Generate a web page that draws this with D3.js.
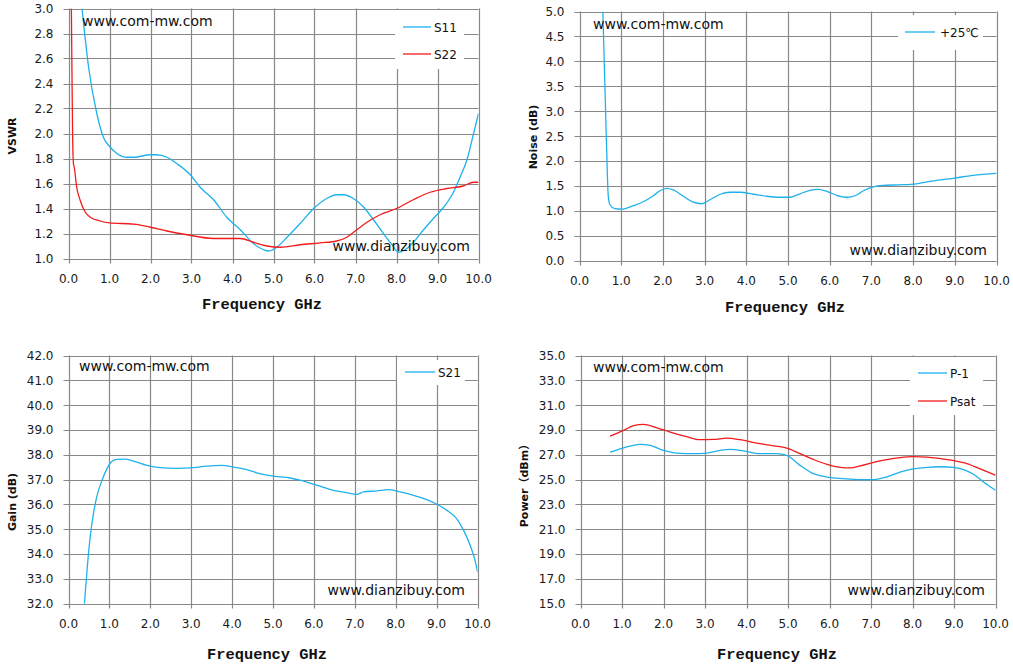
<!DOCTYPE html>
<html>
<head>
<meta charset="utf-8">
<script src="https://cdn.jsdelivr.net/npm/d3@7"></script>
<style>
  html, body { margin: 0; padding: 0; background: #fff; }
  svg { display: block; }
</style>
</head>
<body>
<svg id="chart" width="1013" height="667"></svg>
<script>
// ---------- DATA ----------
const xTicks = [0,1,2,3,4,5,6,7,8,9,10];

const vswrTicks = [1.0,1.2,1.4,1.6,1.8,2.0,2.2,2.4,2.6,2.8,3.0];
const s11 = [[0.33,3.0],[0.49,2.53],[0.69,2.16],[0.85,1.97],[1.02,1.89],[1.18,1.84],[1.42,1.81],[1.59,1.81],[2.0,1.83],[2.15,1.83],[2.4,1.81],[2.64,1.76],[2.97,1.67],[3.21,1.57],[3.54,1.47],[3.86,1.33],[4.19,1.23],[4.51,1.12],[4.76,1.07],[4.88,1.06],[5.08,1.09],[5.33,1.17],[5.65,1.28],[5.98,1.40],[6.3,1.48],[6.54,1.51],[6.71,1.51],[6.95,1.48],[7.2,1.41],[7.44,1.31],[7.68,1.20],[7.89,1.11],[8.05,1.05],[8.21,1.07],[8.41,1.13],[8.66,1.23],[8.9,1.32],[9.15,1.41],[9.39,1.53],[9.55,1.65],[9.72,1.79],[9.88,2.0],[10.0,2.16]];
const s22 = [[0.07,3.0],[0.09,2.3],[0.10,2.0],[0.12,1.76],[0.14,1.73],[0.2,1.57],[0.28,1.47],[0.41,1.37],[0.53,1.33],[0.77,1.30],[1.0,1.285],[1.59,1.275],[2.0,1.25],[2.4,1.22],[2.89,1.19],[3.54,1.16],[4.19,1.16],[4.51,1.13],[4.84,1.10],[5.17,1.09],[5.65,1.11],[6.14,1.125],[6.54,1.14],[6.79,1.17],[7.03,1.23],[7.28,1.29],[7.6,1.35],[8.0,1.40],[8.41,1.47],[8.82,1.53],[9.23,1.56],[9.63,1.58],[9.88,1.61],[10.0,1.61]];

const noiseTicks = [0.0,0.5,1.0,1.5,2.0,2.5,3.0,3.5,4.0,4.5,5.0];
const noise25 = [[0.56,5.0],[0.64,2.56],[0.69,1.29],[0.73,1.12],[0.85,1.04],[1.01,1.03],[1.29,1.10],[1.53,1.18],[1.77,1.30],[1.93,1.40],[2.09,1.45],[2.25,1.42],[2.49,1.29],[2.73,1.17],[2.93,1.14],[3.13,1.22],[3.37,1.33],[3.61,1.37],[3.85,1.37],[4.17,1.33],[4.49,1.29],[4.81,1.27],[5.05,1.27],[5.29,1.34],[5.53,1.41],[5.73,1.43],[5.93,1.39],[6.17,1.31],[6.41,1.27],[6.61,1.30],[6.81,1.40],[7.04,1.48],[7.28,1.51],[7.68,1.52],[8.08,1.54],[8.48,1.60],[8.96,1.65],[9.44,1.71],[10.0,1.75]];

const gainTicks = [32,33,34,35,36,37,38,39,40,41,42];
const s21 = [[0.39,32.0],[0.46,33.48],[0.53,34.68],[0.61,35.62],[0.69,36.3],[0.82,36.97],[0.94,37.44],[1.06,37.73],[1.18,37.81],[1.38,37.82],[1.59,37.74],[1.92,37.57],[2.24,37.48],[2.65,37.45],[3.06,37.48],[3.38,37.54],[3.75,37.57],[4.03,37.5],[4.36,37.4],[4.6,37.27],[5.01,37.14],[5.42,37.06],[5.66,36.97],[6.07,36.77],[6.48,36.56],[6.8,36.47],[7.05,36.4],[7.21,36.5],[7.54,36.54],[7.82,36.59],[8.11,36.5],[8.44,36.36],[8.76,36.19],[9.01,36.0],[9.25,35.76],[9.49,35.42],[9.66,34.95],[9.82,34.35],[9.94,33.74],[10.0,33.28]];

const powerTicks = [15,17,19,21,23,25,27,29,31,33,35];
const p1 = [[0.71,27.21],[1.04,27.56],[1.44,27.83],[1.68,27.75],[2.0,27.35],[2.32,27.13],[2.72,27.08],[3.04,27.13],[3.37,27.35],[3.61,27.43],[3.93,27.30],[4.33,27.08],[4.73,27.08],[4.97,26.95],[5.29,26.14],[5.61,25.47],[5.94,25.2],[6.34,25.07],[6.74,24.99],[7.06,24.99],[7.38,25.2],[7.7,25.6],[8.02,25.85],[8.35,25.98],[8.67,26.03],[8.99,25.98],[9.23,25.79],[9.47,25.42],[9.71,24.8],[10.0,24.13]];
const psat = [[0.71,28.5],[1.04,28.96],[1.28,29.34],[1.52,29.44],[1.84,29.17],[2.16,28.83],[2.56,28.45],[2.88,28.21],[3.2,28.23],[3.53,28.34],[3.85,28.21],[4.25,27.94],[4.65,27.72],[4.97,27.54],[5.29,27.08],[5.61,26.62],[5.94,26.22],[6.26,25.98],[6.5,25.93],[6.74,26.09],[7.06,26.38],[7.38,26.6],[7.7,26.76],[8.02,26.84],[8.35,26.81],[8.67,26.68],[8.99,26.52],[9.31,26.28],[9.63,25.85],[10.0,25.34]];

const xTitle = "Frequency GHz";
const siteTop = "www.com-mw.com";
const siteBottom = "www.dianzibuy.com";

// ---------- STYLE ----------
const BLUE = "#1eb1ec", RED = "#f21b1b", GRID = "#888888";

const panels = [
  { x0:68.5, x1:478.5, yTop:8.5, yBot:258.5, ticks:vswrTicks, yTitle:"VSWR", yTitleX:12, yTitleC:136,
    series:[{name:"S11", data:s11, color:BLUE},{name:"S22", data:s22, color:RED}],
    legend:{x:395, y:10, w:69, h:59, lx0:403, lx1:431, tx:434, ys:[27,54]},
    wmTop:{x:82, y:26}, wmBot:{x:470, y:251}, xTitleX:262, xTitleY:309 },
  { x0:579.5, x1:996.5, yTop:11.5, yBot:260.5, ticks:noiseTicks, yTitle:"Noise (dB)", yTitleX:533, yTitleC:137,
    series:[{name:"+25\u2103", data:noise25, color:BLUE}],
    legend:{x:898, y:15, w:85, h:35, lx0:905, lx1:935, tx:940, ys:[32]},
    wmTop:{x:593, y:29}, wmBot:{x:987, y:255}, xTitleX:785, xTitleY:312 },
  { x0:68.5, x1:477.5, yTop:355.5, yBot:603.5, ticks:gainTicks, yTitle:"Gain (dB)", yTitleX:12, yTitleC:502,
    series:[{name:"S21", data:s21, color:BLUE}],
    legend:{x:397, y:360, w:68, h:25, lx0:405, lx1:435, tx:438, ys:[372]},
    wmTop:{x:79, y:371}, wmBot:{x:465, y:595}, xTitleX:267, xTitleY:659 },
  { x0:580.5, x1:995.5, yTop:355.5, yBot:603.5, ticks:powerTicks, yTitle:"Power\uFF08dBm\uFF09", yTitleX:524, yTitleC:483,
    series:[{name:"P-1", data:p1, color:BLUE},{name:"Psat", data:psat, color:RED}],
    legend:{x:910, y:357, w:73, h:58, lx0:918, lx1:947, tx:950, ys:[373,401]},
    wmTop:{x:593, y:372}, wmBot:{x:985, y:595}, xTitleX:777, xTitleY:659 }
];

const svg = d3.select("#chart");
const SANS = "'DejaVu Sans', Verdana, 'Noto Sans CJK SC', sans-serif";
const CJK = "'Noto Sans CJK SC', 'DejaVu Sans', sans-serif";

panels.forEach((p, i) => {
  const x = d3.scaleLinear().domain([0, 10]).range([p.x0, p.x1]);
  const y = d3.scaleLinear().domain([p.ticks[0], p.ticks[p.ticks.length-1]]).range([p.yBot, p.yTop]);
  const g = svg.append("g");

  // grid (horizontal) with left ticks
  g.selectAll(".hg").data(p.ticks).join("line")
    .attr("x1", p.x0 - 5).attr("x2", p.x1)
    .attr("y1", d => Math.round(y(d)) + 0.5).attr("y2", d => Math.round(y(d)) + 0.5)
    .attr("stroke", GRID).attr("stroke-width", 1.2);
  // grid (vertical) with bottom ticks
  g.selectAll(".vg").data(xTicks).join("line")
    .attr("x1", d => Math.round(x(d)) + 0.5).attr("x2", d => Math.round(x(d)) + 0.5)
    .attr("y1", p.yTop).attr("y2", p.yBot + 5)
    .attr("stroke", GRID).attr("stroke-width", 1.2);

  // tick labels
  g.selectAll(".yl").data(p.ticks).join("text")
    .attr("x", p.x0 - 15).attr("y", d => y(d) + 4.5)
    .attr("text-anchor", "end").attr("font-family", SANS).attr("font-size", 12)
    .attr("fill", "#1a1a1a").text(d => d.toFixed(1));
  g.selectAll(".xl").data(xTicks).join("text")
    .attr("x", d => x(d)).attr("y", p.yBot + 24)
    .attr("text-anchor", "middle").attr("font-family", SANS).attr("font-size", 12)
    .attr("fill", "#1a1a1a").text(d => d.toFixed(1));

  // clip
  const cid = "clip" + i;
  svg.append("clipPath").attr("id", cid).append("rect")
    .attr("x", p.x0).attr("y", p.yTop).attr("width", p.x1 - p.x0).attr("height", p.yBot - p.yTop + 1);

  const line = d3.line().x(d => x(d[0])).y(d => y(d[1])).curve(d3.curveMonotoneX);
  p.series.forEach(s => {
    g.append("path").attr("d", line(s.data)).attr("fill", "none")
      .attr("stroke", s.color).attr("stroke-width", 1.3).attr("clip-path", `url(#${cid})`);
  });

  // legend
  const L = p.legend;
  g.append("rect").attr("x", L.x).attr("y", L.y).attr("width", L.w).attr("height", L.h).attr("fill", "#fff");
  p.series.forEach((s, k) => {
    g.append("line").attr("x1", L.lx0).attr("x2", L.lx1).attr("y1", L.ys[k]).attr("y2", L.ys[k])
      .attr("stroke", s.color).attr("stroke-width", 1.3);
    g.append("text").attr("x", L.tx).attr("y", L.ys[k] + 4.5)
      .attr("font-family", SANS).attr("font-size", 12).attr("fill", "#111").text(s.name);
  });

  // watermarks
  g.append("text").attr("x", p.wmTop.x).attr("y", p.wmTop.y)
    .attr("font-family", SANS).attr("font-size", 14).attr("fill", "#111").text(siteTop);
  g.append("text").attr("x", p.wmBot.x).attr("y", p.wmBot.y).attr("text-anchor", "end")
    .attr("font-family", SANS).attr("font-size", 14).attr("fill", "#111").text(siteBottom);

  // axis titles
  g.append("text").attr("x", p.xTitleX).attr("y", p.xTitleY).attr("text-anchor", "middle")
    .attr("font-family", "'Liberation Mono', 'DejaVu Sans Mono', monospace").attr("font-weight", "bold")
    .attr("font-size", 14).attr("fill", "#111")
    .attr("textLength", 120).attr("lengthAdjust", "spacingAndGlyphs").text(xTitle);
  const yt = g.append("text").attr("transform", `translate(${p.yTitleX + 4},${p.yTitleC}) rotate(-90)`)
    .attr("text-anchor", "middle").attr("font-family", SANS).attr("font-weight", "bold")
    .attr("font-size", 11).attr("fill", "#111");
  // split so full-width characters use the CJK face
  const parts = p.yTitle.match(/[\uFF00-\uFFEF]+|[^\uFF00-\uFFEF]+/g);
  parts.forEach(part => {
    const ts = yt.append("tspan").text(part);
    if (/[\uFF00-\uFFEF]/.test(part)) ts.attr("font-family", CJK);
  });
});
</script>
</body>
</html>
